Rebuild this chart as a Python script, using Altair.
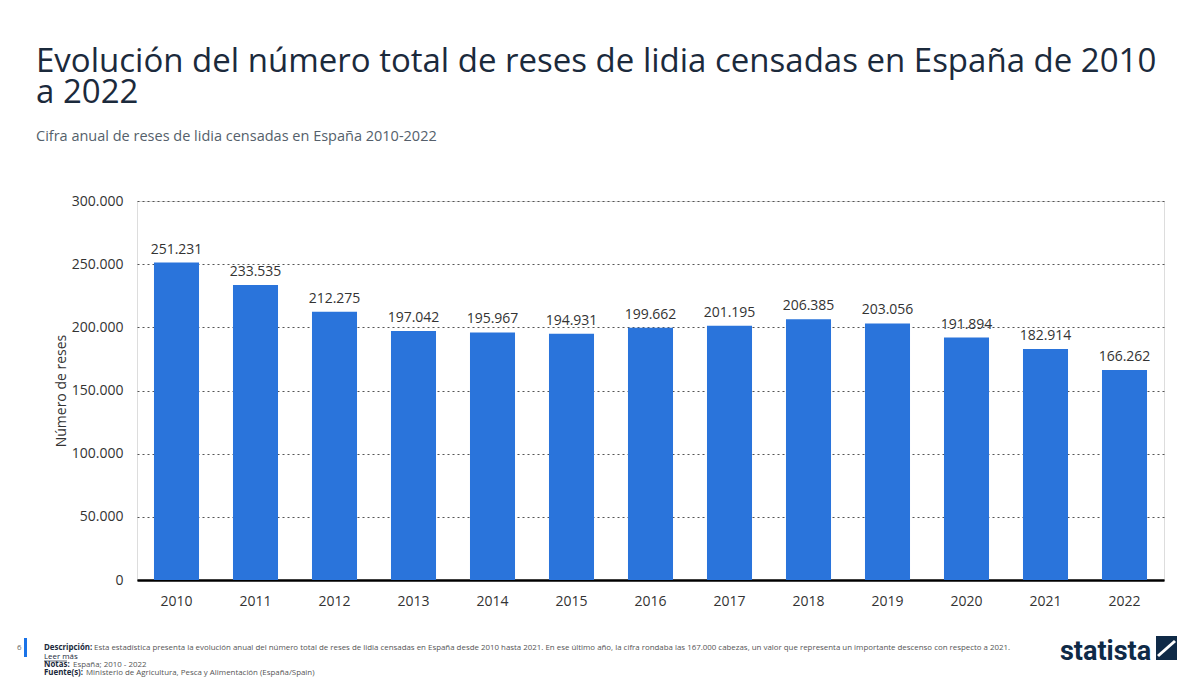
import altair as alt
import pandas as pd

years = ["2010", "2011", "2012", "2013", "2014", "2015", "2016", "2017", "2018", "2019", "2020", "2021", "2022"]
values = [251231, 233535, 212275, 197042, 195967, 194931, 199662, 201195, 206385, 203056, 191894, 182914, 166262]

title_lines = ["Evolución del número total de reses de lidia censadas en España de 2010", "a 2022"]
subtitle = "Cifra anual de reses de lidia censadas en España 2010-2022"
y_title = "Número de reses"
footer_desc_b = "Descripción:"
footer_desc = "Esta estadística presenta la evolución anual del número total de reses de lidia censadas en España desde 2010 hasta 2021. En ese último año, la cifra rondaba las 167.000 cabezas, un valor que representa un importante descenso con respecto a 2021."
footer_more = "Leer más"
footer_notes_b = "Notas:"
footer_notes = "España; 2010 - 2022"
footer_src_b = "Fuente(s):"
footer_src = "Ministerio de Agricultura, Pesca y Alimentación (España/Spain)"

FONT = "Open Sans"
df = pd.DataFrame({"year": years, "value": values})
df["label"] = [f"{v:,}".replace(",", ".") for v in values]

W, H = 1027, 379

base = alt.Chart(df)
bars = base.mark_bar(color="#2a74db").encode(
    x=alt.X("year:N", title=None, sort=years,
            scale=alt.Scale(paddingInner=0.43, paddingOuter=0.215),
            axis=alt.Axis(labelAngle=0, labelFontSize=14, labelColor="#333333", labelFont=FONT,
                          labelPadding=14, domainColor="#000000", domainWidth=2.5, ticks=False)),
    y=alt.Y("value:Q", title=y_title, scale=alt.Scale(domain=[0, 300000]),
            axis=alt.Axis(values=[0, 50000, 100000, 150000, 200000, 250000, 300000],
                          labelExpr="replace(format(datum.value, ','), /,/g, '.')",
                          labelFontSize=14, labelColor="#333333", labelFont=FONT, labelPadding=14,
                          titleFontSize=14, titleColor="#333333", titleFont=FONT, titleFontWeight="normal",
                          titlePadding=3,
                          domain=False, ticks=False, grid=True, gridColor="#555555", gridDash=[2, 3],
                          gridWidth=1)),
)
labels = base.mark_text(baseline="alphabetic", dy=-9, fontSize=14, color="#333333", font=FONT).encode(
    x=alt.X("year:N", sort=years), y="value:Q", text="label:N"
)

def txt(s, x, y, size, color, weight="normal", font=FONT, align="left"):
    return alt.Chart(pd.DataFrame({"t": [s]})).mark_text(
        align=align, baseline="alphabetic", fontSize=size, color=color, fontWeight=weight, font=font
    ).encode(x=alt.value(x), y=alt.value(y), text="t:N")

layers = [bars, labels]
layers.append(txt(title_lines[0], -101, -129, 33, "#1b2a3c"))
layers.append(txt(title_lines[1], -101, -98, 33, "#1b2a3c"))
layers.append(txt(subtitle, -101, -60, 14.5, "#555f6b"))

fs = 7.9
fc = "#555555"
fb = "#1b2a3c"
layers.append(txt("6", -120, 449, fs, "#666666"))
layers.append(alt.Chart(pd.DataFrame({"a": [0]})).mark_rect(color="#1a73e8").encode(
    x=alt.value(-113), x2=alt.value(-110), y=alt.value(437), y2=alt.value(456)))
layers.append(txt(footer_desc_b, -93, 449, fs, fb, "bold"))
layers.append(txt(footer_desc, -43, 449, fs, fc))
layers.append(txt(footer_more, -93, 458, fs, fb))
layers.append(alt.Chart(pd.DataFrame({"a": [0]})).mark_rule(color=fb, strokeWidth=0.7).encode(
    x=alt.value(-93), x2=alt.value(-70), y=alt.value(460)))
layers.append(txt(footer_notes_b, -93, 466, fs, fb, "bold"))
layers.append(txt(footer_notes, -64, 466, fs, fc))
layers.append(txt(footer_src_b, -93, 474, fs, fb, "bold"))
layers.append(txt(footer_src, -51, 474, fs, fc))
layers.append(txt("statista", 923, 459, 27, "#0f2a47", "bold", font="Roboto"))
layers.append(alt.Chart(pd.DataFrame({"a": [0]})).mark_rect(color="#0f2a47").encode(
    x=alt.value(1019), x2=alt.value(1040), y=alt.value(435), y2=alt.value(459)))
layers.append(alt.Chart(pd.DataFrame({"a": [0]})).mark_rule(color="#ffffff", strokeWidth=3).encode(
    x=alt.value(1021), x2=alt.value(1038), y=alt.value(455), y2=alt.value(440)))

chart = alt.layer(*layers).properties(
    width=W, height=H,
    autosize=alt.AutoSizeParams(type="none"),
    padding={"left": 129, "top": 193, "right": 20, "bottom": 100},
).configure_view(stroke=None).configure(background="#ffffff")

chart.save("out.html", embed_options={"renderer": "svg", "actions": False})
